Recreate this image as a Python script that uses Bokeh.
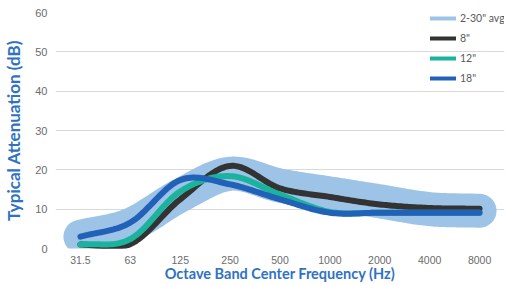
import numpy as np
from bokeh.plotting import figure
from bokeh.models import Range1d, FixedTicker, Legend, LegendItem
from bokeh.embed import file_html
from bokeh.resources import INLINE

freqs = ["31.5", "63", "125", "250", "500", "1000", "2000", "4000", "8000"]
avg_2_30 = [3.0, 6.0, 13.5, 19.0, 16.0, 14.0, 12.0, 10.0, 9.6]
in8 = [1.0, 1.1, 12.5, 21.0, 15.3, 13.1, 11.2, 10.3, 10.1]
in12 = [1.0, 2.4, 14.5, 18.4, 13.7, 9.3, 9.1, 9.1, 9.1]
in18 = [3.0, 6.6, 17.4, 16.3, 12.5, 9.1, 9.1, 9.1, 9.1]
y_ticks = [0, 10, 20, 30, 40, 50, 60]


def smooth(vals, n=24):
    """Catmull-Rom rendering path through the data points (category index x)."""
    v = np.asarray(vals, dtype=float)
    x = np.arange(len(v), dtype=float)
    P = np.concatenate([[v[0] - (v[1] - v[0])], v, [v[-1] + (v[-1] - v[-2])]])
    X = np.concatenate([[x[0] - 1], x, [x[-1] + 1]])
    xs, ys = [], []
    for i in range(1, len(P) - 2):
        t = np.linspace(0, 1, n, endpoint=(i == len(P) - 3))
        t2, t3 = t * t, t * t * t
        def cr(p0, p1, p2, p3):
            return 0.5 * ((2 * p1) + (-p0 + p2) * t + (2 * p0 - 5 * p1 + 4 * p2 - p3) * t2
                          + (-p0 + 3 * p1 - 3 * p2 + p3) * t3)
        xs.extend(cr(X[i - 1], X[i], X[i + 1], X[i + 2]))
        ys.extend(cr(P[i - 1], P[i], P[i + 1], P[i + 2]))
    return xs, ys


p = figure(width=508, height=284, output_backend="svg", toolbar_location=None,
           x_range=Range1d(-0.5, 8.5), y_range=Range1d(0, 60),
           min_border_left=55, min_border_right=4, min_border_top=12, min_border_bottom=30)
p.outline_line_color = None
p.background_fill_color = "white"
p.border_fill_color = "white"

p.xgrid.visible = False
p.ygrid.grid_line_color = "#d9d9d9"
p.ygrid.grid_line_width = 1

p.xaxis.ticker = FixedTicker(ticks=list(range(len(freqs))))
p.xaxis.major_label_overrides = {i: f for i, f in enumerate(freqs)}
p.yaxis.ticker = FixedTicker(ticks=y_ticks)

for ax in (p.xaxis, p.yaxis):
    ax.axis_line_color = None
    ax.major_tick_line_color = None
    ax.minor_tick_line_color = None
    ax.major_tick_out = 0
    ax.major_tick_in = 0
    ax.minor_tick_out = 0
    ax.minor_tick_in = 0
    ax.major_label_text_font = "Liberation Sans"
    ax.major_label_text_color = "#6b6b6b"
    ax.axis_label_text_font = "Lato"
    ax.axis_label_text_font_style = "bold"
    ax.axis_label_text_color = "#2f72c4"

p.xaxis.major_label_text_font_size = "10.5px"
p.yaxis.major_label_text_font_size = "11px"
p.xaxis.axis_label_text_font_size = "14.5px"
p.yaxis.axis_label_text_font_size = "17px"

p.xaxis.axis_label = "Octave Band Center Frequency (Hz)"
p.yaxis.axis_label = "Typical Attenuation (dB)"
p.xaxis.major_label_standoff = 7
p.xaxis.axis_label_standoff = -2
p.yaxis.major_label_standoff = 8
p.yaxis.axis_label_standoff = 8

series = [
    ("2-30\" avg", avg_2_30, "#9dc3e6", 34),
    ("8\"", in8, "#333333", 6),
    ("12\"", in12, "#1ab49e", 6),
    ("18\"", in18, "#2162b8", 6),
]

items = []
for label, vals, color, w in series:
    xs, ys = smooth(vals)
    # thin proxy (hidden beneath the wide stroke) used for the legend swatch
    proxy = p.line(xs, ys, line_color=color, line_width=4, line_cap="round")
    p.line(xs, ys, line_color=color, line_width=w, line_cap="round", line_join="round")
    items.append(LegendItem(label=label, renderers=[proxy]))

legend = Legend(items=items, location=(375, 160), orientation="vertical",
                label_text_font="Lato", label_text_font_size="10.5px",
                label_text_color="#595959", glyph_width=26, glyph_height=20,
                label_height=20, label_standoff=4, spacing=0, padding=0, margin=0,
                background_fill_alpha=0, border_line_color=None)
p.add_layout(legend, "center")

open("out.html", "w").write(file_html(p, INLINE))
